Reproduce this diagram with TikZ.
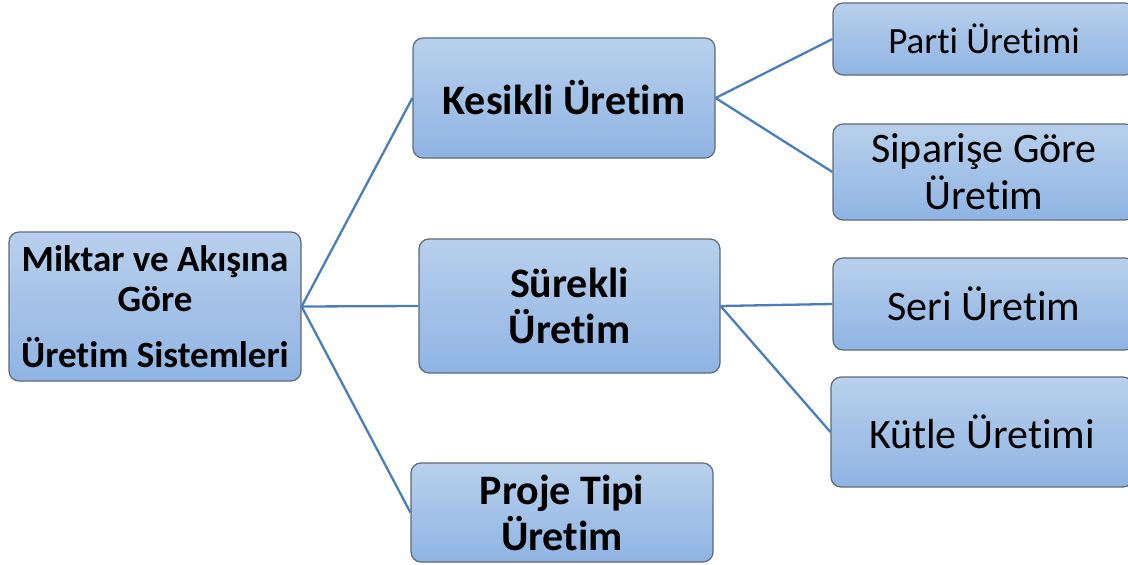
\documentclass[tikz,border=0pt]{standalone}
\usepackage{fontspec}
\setmainfont{Carlito}[Ligatures=NoCommon]
\usetikzlibrary{positioning}
\definecolor{boxtop}{HTML}{B8D0EC}
\definecolor{boxbottom}{HTML}{8FB4E3}
\definecolor{boxedge}{HTML}{5F6977}
\definecolor{linkblue}{HTML}{4A7EBB}
\tikzset{
  link/.style={draw=linkblue, line width=2.3pt},
  unit/.style={rectangle, rounded corners=10pt, draw=boxedge, line width=1.2pt, top color=boxtop, bottom color=boxbottom, align=center, inner sep=0pt, text=black},
}

\begin{document}
\begin{tikzpicture}[x=1pt, y=-1pt,
    big/.style={unit, font=\fontsize{42}{46}\selectfont\bfseries},
    leaf/.style={unit, minimum width=302pt, font=\fontsize{42}{47}\selectfont}]

  \clip (0,0) rectangle (1128,565);

  % left and middle column
  \node[unit, minimum width=292pt, minimum height=149pt, font=\fontsize{37}{40}\selectfont\bfseries] (root) at (155,306.5) {Miktar ve Akışına\\Göre\\[16pt]Üretim Sistemleri};
  \node[big, minimum width=302pt, minimum height=120pt] (kesikli) at (564,98) {Kesikli Üretim};
  \node[big, minimum width=301pt, minimum height=134pt] (surekli) at (569.5,306) {Sürekli\\Üretim};
  \node[big, minimum width=302pt, minimum height=99pt] (proje) at (562,512.5) {Proje Tipi\\Üretim};

  % right column (cut by the page edge)
  \node[leaf, minimum height=72pt, font=\fontsize{37}{42}\selectfont] (parti) at (984,39) {Parti Üretimi};
  \node[leaf, minimum height=96pt] (siparis) at (984,172) {Siparişe Göre\\Üretim};
  \node[leaf, minimum height=92pt] (seri) at (984,304) {Seri Üretim};
  \node[leaf, minimum height=110pt] (kutle) at (982,432) {Kütle Üretimi};

  \foreach \a/\b in {root/kesikli,root/surekli,root/proje,kesikli/parti,kesikli/siparis,surekli/seri,surekli/kutle} {
    \draw[link] (\a.east) -- (\b.west);
  }
\end{tikzpicture}
\end{document}
